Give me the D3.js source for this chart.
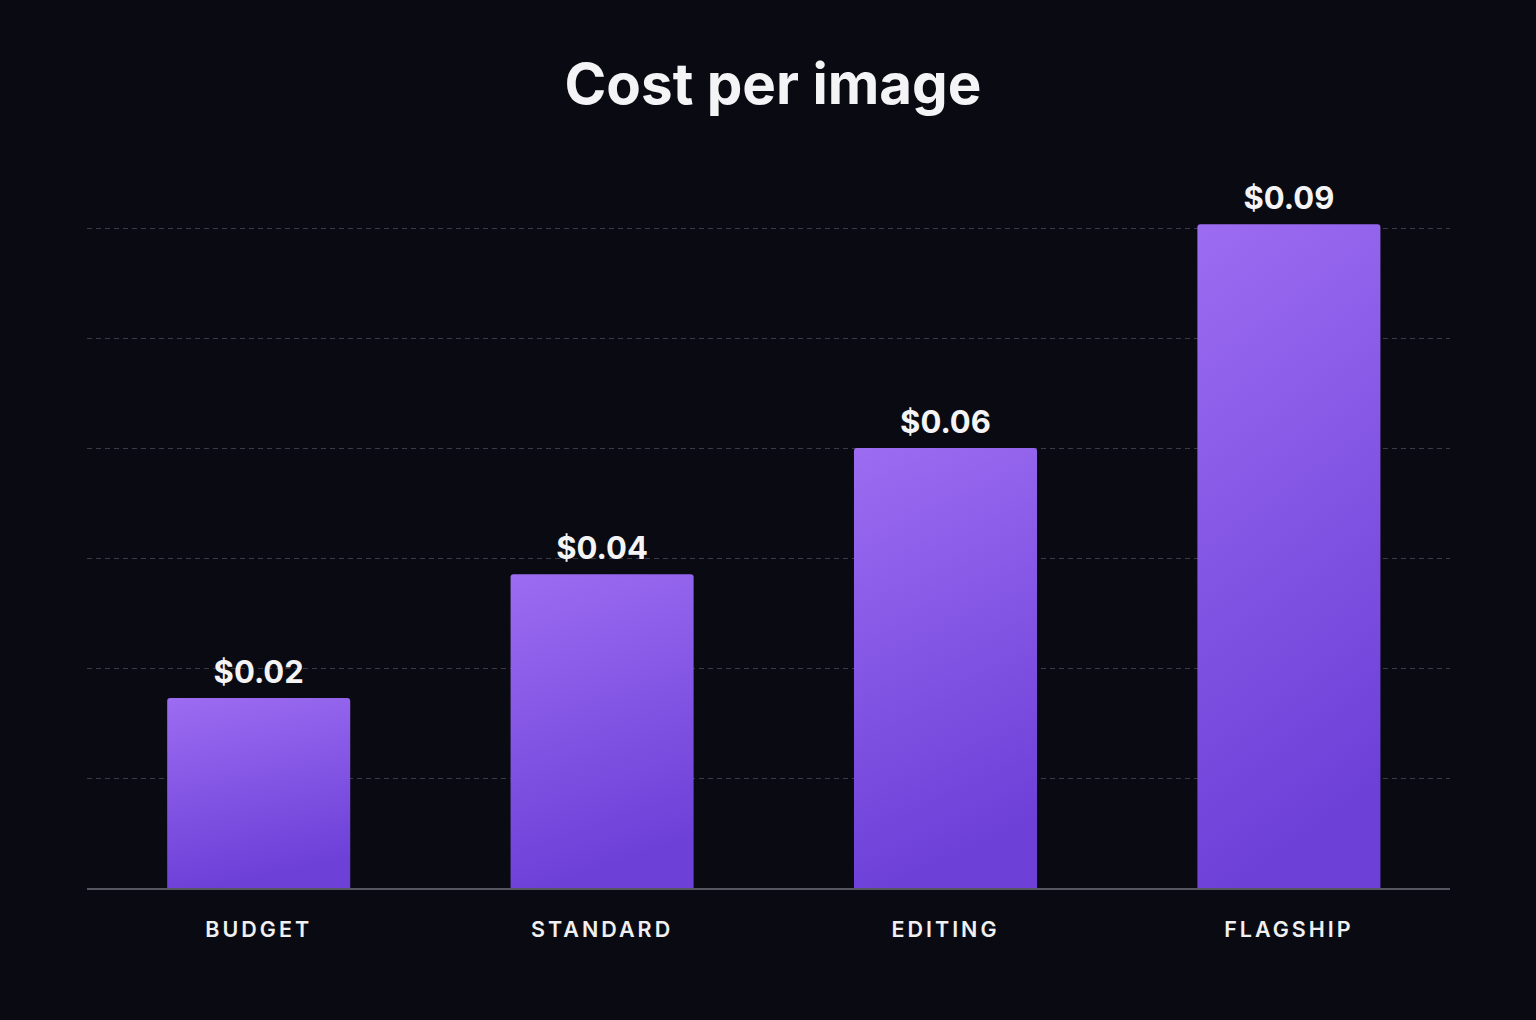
<!DOCTYPE html>
<html>
<head>
<meta charset="utf-8">
<script src="https://cdn.jsdelivr.net/npm/d3@7"></script>
<style>
  html, body { margin: 0; padding: 0; background: #0a0b12; }
  svg { display: block; }
</style>
</head>
<body>
<div class="chart"></div>
<script>
// Data
let categories = ["BUDGET", "STANDARD", "EDITING", "FLAGSHIP"];
let costs = [0.0259, 0.0428, 0.06, 0.0905];
let costLabels = ["$0.02", "$0.04", "$0.06", "$0.09"];
let gridTicks = [0.015, 0.03, 0.045, 0.06, 0.075, 0.09];

let width = 1536, height = 1020;
let gridLeft = 87, gridRight = 1450;
let baseY = 888, topY = 228;

let svg = d3.select(".chart").append("svg")
    .attr("width", width)
    .attr("height", height);

svg.append("rect")
    .attr("width", width)
    .attr("height", height)
    .attr("fill", "#0a0b12");

// gradient for bars
let defs = svg.append("defs");
let grad = defs.append("linearGradient")
    .attr("id", "barGrad")
    .attr("x1", "0").attr("y1", "0")
    .attr("x2", "0.2").attr("y2", "1");
grad.append("stop").attr("offset", "0%").attr("stop-color", "#9c6cf1");
grad.append("stop").attr("offset", "100%").attr("stop-color", "#6d40d8");

let x = d3.scaleBand()
    .domain(categories)
    .range([87, 1460.6])
    .paddingInner(0.467)
    .paddingOuter(0.2335);

let y = d3.scaleLinear()
    .domain([0, 0.09])
    .range([baseY, topY]);

// title
svg.append("text")
    .attr("x", width / 2 + 5)
    .attr("y", 104)
    .attr("text-anchor", "middle")
    .style("font-family", "Inter, 'Noto Sans', sans-serif")
    .style("font-weight", 700)
    .style("font-size", "56.5px")
    .style("fill", "#f4f4f6")
    .text("Cost per image");

// dashed gridlines
svg.append("g")
    .selectAll("line")
    .data(gridTicks)
    .join("line")
    .attr("x1", gridLeft)
    .attr("x2", gridRight)
    .attr("y1", d => Math.round(y(d)) + 0.5)
    .attr("y2", d => Math.round(y(d)) + 0.5)
    .attr("stroke", "#3a3b46")
    .attr("stroke-width", 1)
    .attr("stroke-dasharray", "5,4");

// bars (rounded top corners)
function barPath(d, i) {
    let x0 = x(categories[i]), w = x.bandwidth();
    let y0 = y(d), r = 3;
    return `M${x0},${baseY}V${y0 + r}Q${x0},${y0} ${x0 + r},${y0}H${x0 + w - r}Q${x0 + w},${y0} ${x0 + w},${y0 + r}V${baseY}Z`;
}

svg.append("g")
    .selectAll("path")
    .data(costs)
    .join("path")
    .attr("d", (d, i) => barPath(d, i))
    .attr("fill", "url(#barGrad)");

// baseline
svg.append("line")
    .attr("x1", gridLeft)
    .attr("x2", gridRight)
    .attr("y1", baseY + 1)
    .attr("y2", baseY + 1)
    .attr("stroke", "#55565f")
    .attr("stroke-width", 2);

// value labels
svg.append("g")
    .selectAll("text")
    .data(costs)
    .join("text")
    .attr("x", (d, i) => x(categories[i]) + x.bandwidth() / 2)
    .attr("y", d => y(d) - 15)
    .attr("text-anchor", "middle")
    .style("font-family", "Inter, 'Noto Sans', sans-serif")
    .style("font-weight", 700)
    .style("font-size", "31px")
    .style("fill", "#f4f4f6")
    .text((d, i) => costLabels[i]);

// category labels
let xAxis = svg.append("g")
    .attr("transform", `translate(0,${baseY})`)
    .call(d3.axisBottom(x).tickSize(0).tickPadding(0));
xAxis.select(".domain").remove();
xAxis.selectAll("text")
    .attr("y", 49)
    .attr("dy", 0)
    .style("font-family", "Inter, 'Noto Sans', sans-serif")
    .style("font-weight", 600)
    .style("font-size", "21.5px")
    .style("letter-spacing", "3px")
    .style("fill", "#f0f0f3");
</script>
</body>
</html>
